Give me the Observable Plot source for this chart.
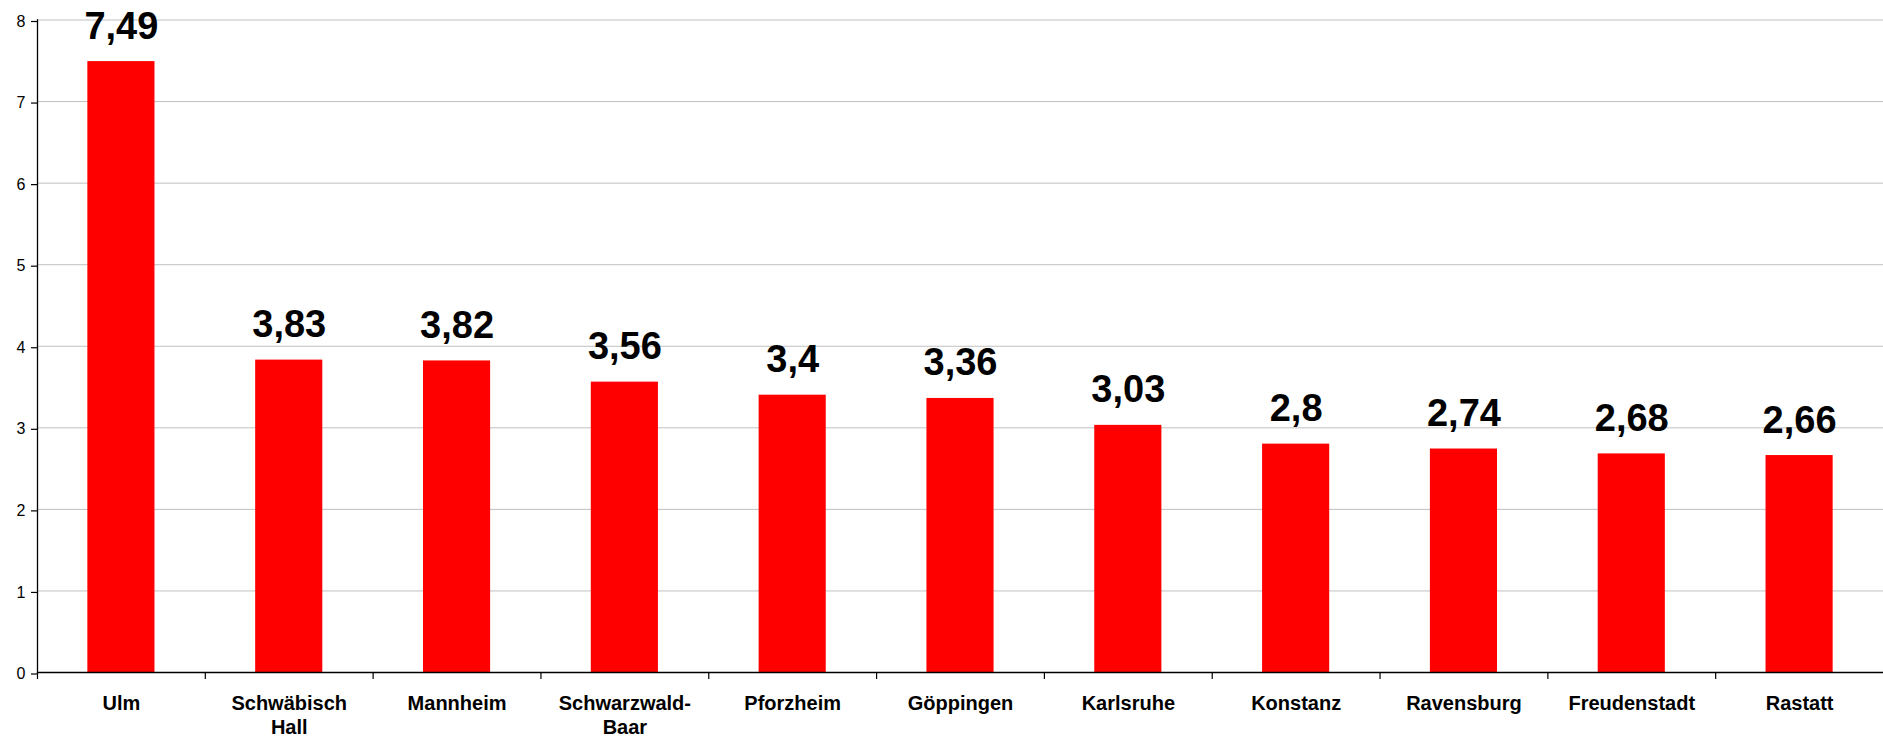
<!DOCTYPE html>
<html>
<head>
<meta charset="utf-8">
<script src="https://cdn.jsdelivr.net/npm/d3@7"></script>
<script src="https://cdn.jsdelivr.net/npm/@observablehq/plot@0.6"></script>
<style>
  html, body { margin: 0; padding: 0; background: #fff; overflow: hidden; }
</style>
</head>
<body>
<div id="chart"></div>
<script>
const cities = ["Ulm", "Schwäbisch\nHall", "Mannheim", "Schwarzwald-\nBaar", "Pforzheim", "Göppingen", "Karlsruhe", "Konstanz", "Ravensburg", "Freudenstadt", "Rastatt"];
const values = [7.49, 3.83, 3.82, 3.56, 3.4, 3.36, 3.03, 2.8, 2.74, 2.68, 2.66];
const yTicks = [0, 1, 2, 3, 4, 5, 6, 7, 8];

const data = cities.map((city, i) => ({city, value: values[i]}));

const W = 1883, H = 736, ML = 37, MR = 0;
const step = (W - ML - MR) / cities.length;

const chart = Plot.plot({
  width: W,
  height: H,
  marginLeft: ML,
  marginRight: MR,
  marginTop: 19.5,
  marginBottom: 64,
  style: {fontFamily: "'Liberation Sans', Arial, sans-serif", background: "#fff", color: "#000", overflow: "visible"},
  x: {domain: cities, paddingInner: 0.6, paddingOuter: 0.3, round: false, label: null},
  y: {domain: [0, 8], ticks: yTicks, label: null},
  marks: [
    Plot.gridY(yTicks, {stroke: "#c0c0c0", strokeOpacity: 1, strokeWidth: 1}),
    Plot.barY(data, {x: "city", y: "value", fill: "#ff0000"}),
    Plot.text(data, {
      x: "city", y: "value",
      text: d => String(d.value).replace(".", ","),
      lineAnchor: "bottom", dy: -23,
      fontSize: 38, fontWeight: "bold", fill: "#000"
    }),
    Plot.axisY(yTicks, {tickSize: 6, tickPadding: 6, fontSize: 16, dy: 1.5, tickFormat: d => String(d), label: null, stroke: "#000", strokeWidth: 1.2, fill: "#000"}),
    Plot.frame({anchor: "left", stroke: "#000", strokeWidth: 1.3}),
    Plot.ruleY([0], {stroke: "#000", strokeWidth: 1.3}),
    Plot.ruleX(cities, {x: d => d, y1: 0, y2: 0, insetBottom: -7, dx: -step / 2, stroke: "#000", strokeWidth: 1.2}),
    Plot.axisX({tickSize: 0, tickPadding: 20, fontSize: 20, fontWeight: "bold", lineHeight: 1.2, label: null, fill: "#000"})
  ]
});

document.getElementById("chart").appendChild(chart);
</script>
</body>
</html>
